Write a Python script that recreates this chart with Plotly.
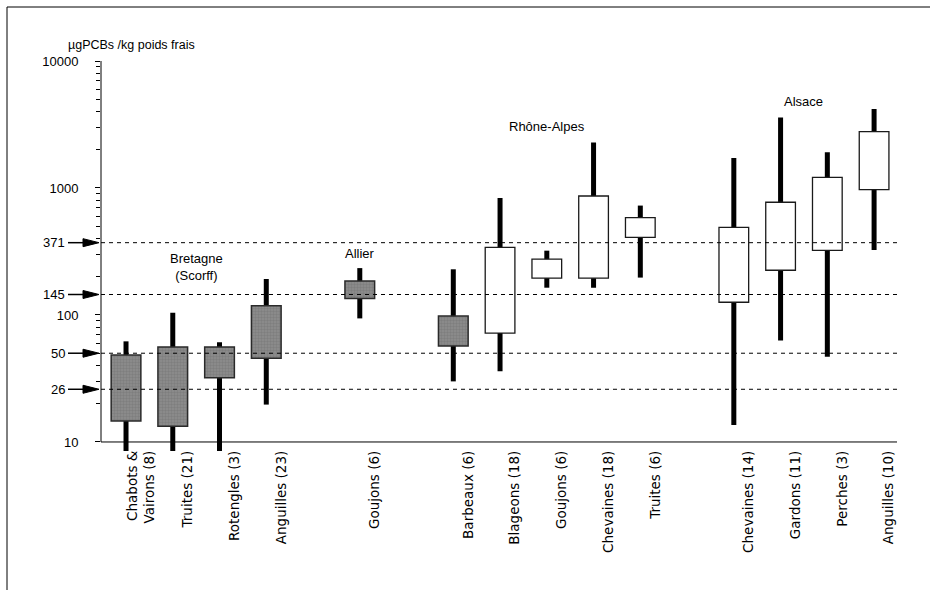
import math
import plotly.graph_objects as go

# PCB concentrations (µg PCBs / kg poids frais) per species and region
groups = ["Bretagne<br>(Scorff)", "Allier", "Rhône-Alpes", "Alsace"]
group_sizes = [4, 1, 5, 4]
species = [
    "Chabots &<br>Vairons (8)", "Truites (21)", "Rotengles (3)", "Anguilles (23)",
    "Goujons (6)",
    "Barbeaux (6)", "Blageons (18)", "Goujons (6)", "Chevaines (18)", "Truites (6)",
    "Chevaines (14)", "Gardons (11)", "Perches (3)", "Anguilles (10)",
]
whisker_low = [8, 8, 8, 19.7, 94, 30, 36, 164, 164, 197, 13.6, 63, 47, 325]
box_low = [14.6, 13.3, 32, 45.6, 135, 57, 72, 195, 195, 409, 126, 225, 323, 971]
box_high = [48.4, 56, 56, 118, 185, 98, 341, 275, 865, 584, 490, 772, 1213, 2780]
whisker_high = [62, 104, 61, 192, 234, 229, 834, 321, 2277, 727, 1722, 3583, 1910, 4188]
shaded = [True, True, True, True, True, True,
          False, False, False, False, False, False, False, False]
thresholds = [26, 50, 145, 371]
y_ticks = [10, 100, 1000, 10000]
y_title = "µgPCBs /kg poids frais"

# slot positions: one empty slot between regions
pos, group_centers = [], []
slot = 0
for n in group_sizes:
    members = list(range(slot, slot + n))
    pos += members
    group_centers.append(sum(members) / n)
    slot += n + 1

# plot geometry (px) used for frame / helper conversions
W, H = 930, 590
ML, MR, MT, MB = 101, 33, 61, 139
PW, PH = W - ML - MR, H - MT - MB


def px_x(px):
    return (px - ML) / PW


def px_y(py):
    return (H - MB - py) / PH


FONT_TXT = "Liberation Sans, Arial, sans-serif"
FONT_LBL = "DejaVu Sans, Verdana, sans-serif"
BOX_W = 0.635
WHISK_W = 0.107

fig = go.Figure()

# whiskers (drawn first, underneath the boxes)
fig.add_trace(go.Bar(
    x=pos, base=whisker_low,
    y=[h - l for h, l in zip(whisker_high, whisker_low)],
    width=WHISK_W, marker=dict(color="black", line=dict(width=0)),
    hoverinfo="skip",
))

# shaded boxes
gi = [i for i, s in enumerate(shaded) if s]
fig.add_trace(go.Bar(
    x=[pos[i] for i in gi], base=[box_low[i] for i in gi],
    y=[box_high[i] - box_low[i] for i in gi],
    width=BOX_W,
    marker=dict(
        color="#8a8a8a",
        line=dict(color="#2a2a2a", width=1.5),
        pattern=dict(shape=".", fgcolor="#6e6e6e", bgcolor="#8e8e8e",
                     size=3, solidity=0.5),
    ),
    hoverinfo="skip",
))

# open boxes
wi = [i for i, s in enumerate(shaded) if not s]
fig.add_trace(go.Bar(
    x=[pos[i] for i in wi], base=[box_low[i] for i in wi],
    y=[box_high[i] - box_low[i] for i in wi],
    width=BOX_W,
    marker=dict(color="white", line=dict(color="#1a1a1a", width=1.3)),
    hoverinfo="skip",
))

shapes = []
# axis lines
shapes.append(dict(type="line", xref="paper", yref="y", x0=0, x1=0,
                   y0=y_ticks[0], y1=y_ticks[-1],
                   line=dict(color="black", width=1), layer="above"))
shapes.append(dict(type="line", xref="paper", yref="y", x0=0, x1=1,
                   y0=y_ticks[0], y1=y_ticks[0],
                   line=dict(color="black", width=1), layer="above"))
# reference levels: dashed lines + arrows
for t in thresholds:
    shapes.append(dict(type="line", xref="paper", yref="y", x0=0, x1=1,
                       y0=t, y1=t, layer="above",
                       line=dict(color="black", width=1, dash="4px,4px")))
    shapes.append(dict(type="path", xref="paper", yref="y",
                       xsizemode="pixel", ysizemode="pixel",
                       xanchor=0, yanchor=t,
                       path="M-33,0 L-17,0",
                       line=dict(color="black", width=1.5)))
    shapes.append(dict(type="path", xref="paper", yref="y",
                       xsizemode="pixel", ysizemode="pixel",
                       xanchor=0, yanchor=t,
                       path="M-18,-4 L-2,0 L-18,4 Z",
                       fillcolor="black", line=dict(color="black", width=1)))
# outer frame
shapes.append(dict(type="line", xref="paper", yref="paper",
                   x0=px_x(7), x1=px_x(7), y0=px_y(7), y1=px_y(H + 10),
                   line=dict(color="black", width=1)))
shapes.append(dict(type="line", xref="paper", yref="paper",
                   x0=px_x(7), x1=px_x(W + 10), y0=px_y(7), y1=px_y(7),
                   line=dict(color="black", width=1)))

annotations = []
for t in thresholds:
    annotations.append(dict(xref="paper", yref="y", x=0, y=math.log10(t),
                            text=str(t), showarrow=False, xanchor="right",
                            yanchor="middle", xshift=-34,
                            font=dict(family=FONT_TXT, size=13, color="black")))

region_y = [2.378, 2.488, 3.488, 3.685]
for name, cx, ry in zip(groups, group_centers, region_y):
    annotations.append(dict(xref="x", yref="y", x=cx, y=ry, text=name,
                            showarrow=False, xanchor="center", yanchor="middle",
                            font=dict(family=FONT_TXT, size=13, color="black")))

annotations.append(dict(xref="paper", yref="paper", x=px_x(66), y=px_y(45),
                        text=y_title, showarrow=False, xanchor="left",
                        yanchor="middle",
                        font=dict(family=FONT_TXT, size=12.5, color="black")))

minor_vals = [m * 10 ** d for d in range(1, 4) for m in range(2, 10)]

fig.update_layout(
    width=W, height=H,
    margin=dict(l=ML, r=MR, t=MT, b=MB, pad=0),
    paper_bgcolor="white", plot_bgcolor="white",
    barmode="overlay", showlegend=False,
    shapes=shapes, annotations=annotations,
    xaxis=dict(
        range=[-0.535, 16.49], showgrid=False, zeroline=False, showline=False,
        tickmode="array", tickvals=[p + 0.32 for p in pos], ticktext=species,
        tickangle=-90, ticks="", ticklabelstandoff=-4,
        tickfont=dict(family=FONT_LBL, size=13.5, color="black"),
    ),
    yaxis=dict(
        type="log", range=[0.929, 4], showgrid=False, zeroline=False,
        showline=False, tickmode="array", tickvals=y_ticks,
        ticktext=[str(v) for v in y_ticks],
        ticks="outside", ticklen=5, tickcolor="black", tickwidth=1,
        ticklabelstandoff=14,
        tickfont=dict(family=FONT_TXT, size=13, color="black"),
        minor=dict(tickvals=minor_vals, ticks="outside", ticklen=4,
                   tickcolor="black", tickwidth=1),
    ),
)

fig.write_html("out.html")
